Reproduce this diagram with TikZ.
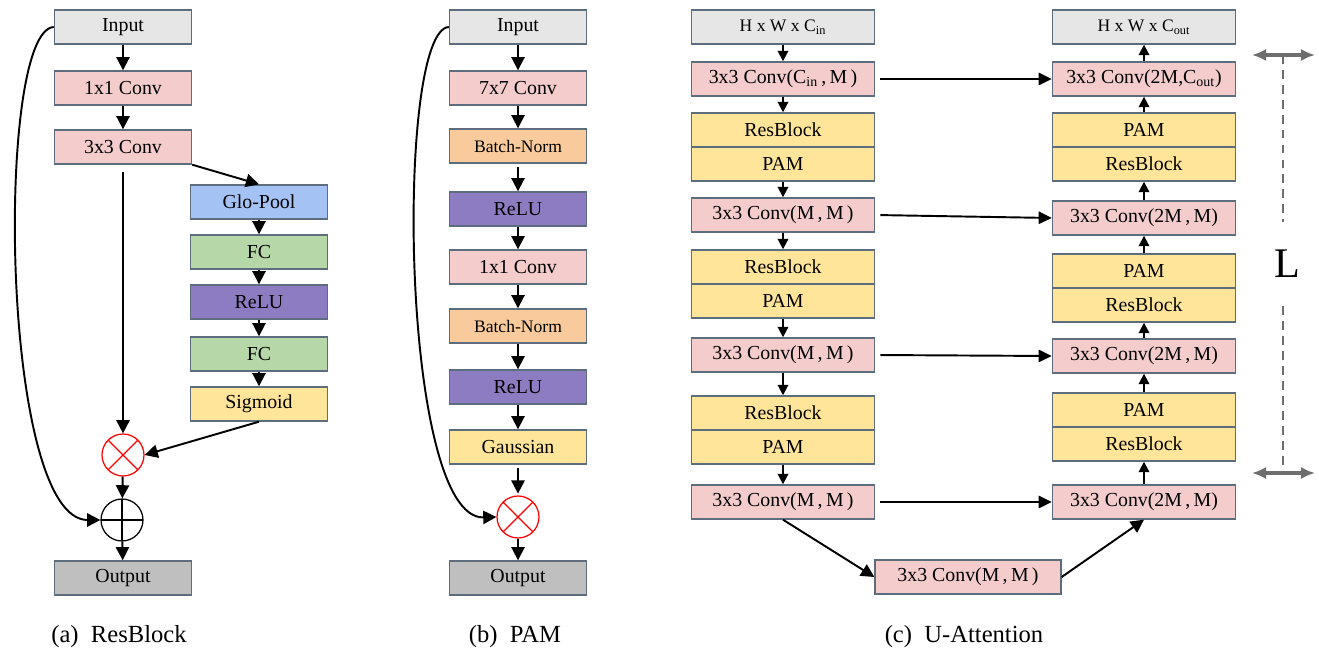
\documentclass[tikz,border=0pt]{standalone}
\usepackage{fontspec}
\setmainfont{Liberation Serif}
\usetikzlibrary{arrows.meta}
\definecolor{boxline}{HTML}{5D6D7E}
\definecolor{ingray}{HTML}{E6E6E6}
\definecolor{outgray}{HTML}{BFBFBF}
\definecolor{convpink}{HTML}{F4CCCC}
\definecolor{normorange}{HTML}{F9CB9C}
\definecolor{relupurple}{HTML}{8E7CC3}
\definecolor{poolblue}{HTML}{A4C2F4}
\definecolor{fcgreen}{HTML}{B6D7A8}
\definecolor{sigyellow}{HTML}{FFE599}
\definecolor{dimgray}{HTML}{6E6E6E}
\begin{document}
\begin{tikzpicture}[x=0.02cm,y=-0.02cm,line width=1.1pt,
    >={Triangle[length=7.5pt,width=7.5pt]},
    box/.style={draw=boxline,line width=0.8pt,minimum height=0.68cm,inner sep=0pt,
      font=\fontsize{11.3}{13}\selectfont},
    narrow/.style={box,minimum width=2.74cm},
    wide/.style={box,minimum width=3.66cm},
    mulop/.style={circle,draw=red,line width=0.7pt,minimum size=0.84cm,inner sep=0pt,
      path picture={\draw[red,line width=0.7pt]
        (path picture bounding box.north west) -- (path picture bounding box.south east)
        (path picture bounding box.north east) -- (path picture bounding box.south west);}},
    addop/.style={circle,draw,line width=0.7pt,minimum size=0.84cm,inner sep=0pt,
      path picture={\draw[line width=0.7pt]
        (path picture bounding box.north) -- (path picture bounding box.south)
        (path picture bounding box.west) -- (path picture bounding box.east);}},
    caption/.style={font=\fontsize{14}{16}\selectfont}]
  \useasboundingbox (0,0) rectangle (1319,655);

  % (a) ResBlock
  \node[narrow,fill=ingray] (in1) at (123,27) {Input};
  \node[narrow,fill=convpink] (c11) at (123,88) {1x1 Conv};
  \node[narrow,fill=convpink] (c33) at (123,147) {3x3 Conv};
  \node[narrow,fill=poolblue] (pool) at (259,202) {Glo-Pool};
  \node[narrow,fill=fcgreen] (fc1) at (259,252) {FC};
  \node[narrow,fill=relupurple] (relu) at (259,302) {ReLU};
  \node[narrow,fill=fcgreen] (fc2) at (259,354) {FC};
  \node[narrow,fill=sigyellow] (sig) at (259,404) {Sigmoid};
  \node[mulop] (mul) at (123,455) {};
  \node[addop] (add) at (122,520) {};
  \node[narrow,fill=outgray] (out1) at (123,578) {Output};
  \node[caption] (capA) at (119,637) {(a)~~ResBlock};
  \draw[->] (in1) -- (c11);
  \draw[->] (c11) -- (c33);
  \draw[->] (c33.south east) -- (pool.north);
  \draw[->] (pool) -- (fc1);
  \draw[->] (fc1) -- (relu);
  \draw[->] (relu) -- (fc2);
  \draw[->] (fc2) -- (sig);
  \draw[->,shorten <=4pt] (c33.south) -- (mul.north);
  \draw[->] (sig.south) -- (mul.east);
  \draw[->] (mul) -- (add);
  \draw[->] (add) -- (out1);
  \draw[->] (in1.west) .. controls (-5,30) and (0,520) .. (add.west);

  % (b) PAM
  \node[narrow,fill=ingray] (in2) at (518,27) {Input};
  \node[narrow,fill=convpink] (c77) at (518,88) {7x7 Conv};
  \node[narrow,fill=normorange,font=\fontsize{10}{12}\selectfont] (bn1) at (518,146) {Batch-Norm};
  \node[narrow,fill=relupurple] (relu1) at (518,209) {ReLU};
  \node[narrow,fill=convpink] (c11b) at (518,267) {1x1 Conv};
  \node[narrow,fill=normorange,font=\fontsize{10}{12}\selectfont] (bn2) at (518,326) {Batch-Norm};
  \node[narrow,fill=relupurple] (relu2) at (518,387) {ReLU};
  \node[narrow,fill=sigyellow] (gauss) at (518,447) {Gaussian};
  \node[mulop] (mul2) at (518,517) {};
  \node[narrow,fill=outgray] (out2) at (518,578) {Output};
  \node[caption] (capB) at (515,637) {(b)~~PAM};
  \draw[->] (in2) -- (c77);
  \draw[->] (c77) -- (bn1);
  \draw[->,shorten <=2pt] (bn1) -- (relu1);
  \draw[->] (relu1) -- (c11b);
  \draw[->] (c11b) -- (bn2);
  \draw[->] (bn2) -- (relu2);
  \draw[->] (relu2) -- (gauss);
  \draw[->,shorten <=2pt,shorten >=1pt] (gauss) -- (mul2);
  \draw[->] (mul2) -- (out2);
  \draw[->] (in2.west) .. controls (395,30) and (400,520) .. (mul2.west);

  % (c) U-Attention
  \begin{scope}[>={Triangle[length=6pt,width=6pt]}]
  \node[wide,fill=ingray,font=\fontsize{10}{12}\selectfont] (inp) at (783,27) {H x W x C\textsubscript{in}};
  \node[wide,fill=convpink] (e0) at (783,79) {3x3 Conv(C\textsubscript{in}\,,\,M\,)};
  \node[wide,fill=sigyellow] (rb1) at (783,130) {ResBlock};
  \node[wide,fill=sigyellow] (pam1) at (783,164) {PAM};
  \node[wide,fill=convpink] (e1) at (783,215) {3x3 Conv(M\,,\,M\,)};
  \node[wide,fill=sigyellow] (rb2) at (783,267) {ResBlock};
  \node[wide,fill=sigyellow] (pam2) at (783,301) {PAM};
  \node[wide,fill=convpink] (e2) at (783,355) {3x3 Conv(M\,,\,M\,)};
  \node[wide,fill=sigyellow] (rb3) at (783,413) {ResBlock};
  \node[wide,fill=sigyellow] (pam3) at (783,447) {PAM};
  \node[wide,fill=convpink] (e3) at (783,502) {3x3 Conv(M\,,\,M\,)};
  \node[box,minimum width=3.72cm,fill=convpink] (bott) at (968,577) {3x3 Conv(M\,,\,M\,)};
  \node[wide,fill=ingray,font=\fontsize{10}{12}\selectfont] (outp) at (1144,27) {H x W x C\textsubscript{out}};
  \node[wide,fill=convpink] (d0) at (1144,79) {3x3 Conv(2M,C\textsubscript{out})};
  \node[wide,fill=sigyellow] (pm1) at (1144,130) {PAM};
  \node[wide,fill=sigyellow] (rs1) at (1144,164) {ResBlock};
  \node[wide,fill=convpink] (d1) at (1144,218) {3x3 Conv(2M\,,\,M)};
  \node[wide,fill=sigyellow] (pm2) at (1144,271) {PAM};
  \node[wide,fill=sigyellow] (rs2) at (1144,305) {ResBlock};
  \node[wide,fill=convpink] (d2) at (1144,356) {3x3 Conv(2M\,,\,M)};
  \node[wide,fill=sigyellow] (pm3) at (1144,410) {PAM};
  \node[wide,fill=sigyellow] (rs3) at (1144,444) {ResBlock};
  \node[wide,fill=convpink] (d3) at (1144,502) {3x3 Conv(2M\,,\,M)};
  \node[caption] (capC) at (964,637) {(c)~~U-Attention};
  \draw[->] (inp) -- (e0);
  \draw[->] (e0) -- (rb1);
  \draw[->] (pam1) -- (e1);
  \draw[->] (e1) -- (rb2);
  \draw[->] (pam2) -- (e2);
  \draw[->] (e2) -- (rb3);
  \draw[->] (pam3) -- (e3);
  \draw[->,>={Triangle[length=7.5pt,width=7.5pt]}] (e3.south) -- (bott.west);
  \draw[->,>={Triangle[length=7.5pt,width=7.5pt]}] (bott.east) -- (d3.south);
  \draw[->] (d3) -- (rs3);
  \draw[->] (pm3) -- (d2);
  \draw[->] (d2) -- (rs2);
  \draw[->] (pm2) -- (d1);
  \draw[->] (d1) -- (rs1);
  \draw[->] (pm1) -- (d0);
  \draw[->] (d0) -- (outp);
  \draw[->,>={Triangle[length=7.5pt,width=7pt]},shorten <=3pt] (e0.east) -- (d0.west);
  \draw[->,>={Triangle[length=7.5pt,width=7pt]},shorten <=3pt] (e1.east) -- (d1.west);
  \draw[->,>={Triangle[length=7.5pt,width=7pt]},shorten <=3pt] (e2.east) -- (d2.west);
  \draw[->,>={Triangle[length=7.5pt,width=7pt]},shorten <=3pt] (e3.east) -- (d3.west);
  \end{scope}

  % depth marker
  \coordinate (dA1) at (1252,55);
  \coordinate (dA2) at (1315,55);
  \coordinate (dB1) at (1252,473);
  \coordinate (dB2) at (1315,473);
  \coordinate (dm1) at (1283,55);
  \coordinate (dm2) at (1283,473);
  \node[font=\fontsize{24}{26}\selectfont,minimum height=1.66cm,inner sep=0pt] (L) at (1287,264) {L};
  \draw[dimgray,line width=2pt,{Latex[length=8pt,width=7pt]}-{Latex[length=8pt,width=7pt]}] (dA1) -- (dA2);
  \draw[dimgray,line width=2pt,{Latex[length=8pt,width=7pt]}-{Latex[length=8pt,width=7pt]}] (dB1) -- (dB2);
  \draw[dimgray,line width=1pt,dash pattern=on 5pt off 3.5pt] (dm1) -- (dm1 |- L.north);
  \draw[dimgray,line width=1pt,dash pattern=on 5pt off 3.5pt] (dm2 |- L.south) -- (dm2);
\end{tikzpicture}
\end{document}
